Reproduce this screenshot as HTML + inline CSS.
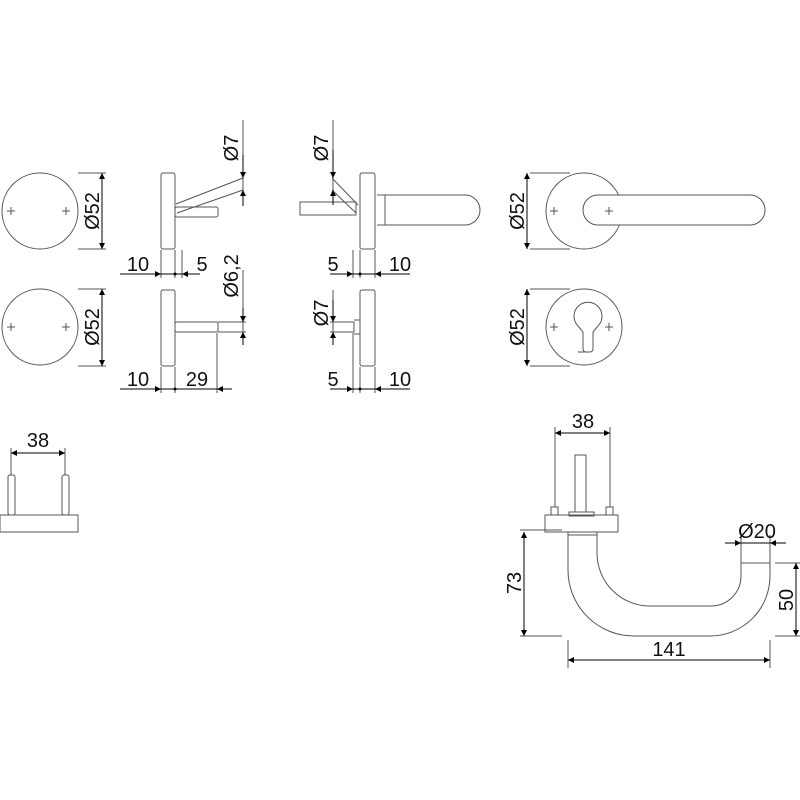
<!DOCTYPE html>
<html><head><style>html,body{margin:0;padding:0;background:#fff}svg{display:block}
text{font-family:"Liberation Sans",sans-serif;font-size:20px;fill:#111}</style></head>
<body>
<svg width="800" height="800" viewBox="0 0 800 800" xmlns="http://www.w3.org/2000/svg">
<defs>
<marker id="a" viewBox="0 0 10 10" refX="10" refY="5" markerWidth="12" markerHeight="6" markerUnits="userSpaceOnUse" orient="auto-start-reverse"><path d="M0,0L10,5L0,10z" fill="#000"/></marker>
</defs>
<g fill="none" stroke="#555" stroke-width="1">
<circle cx="40" cy="211" r="38"/><circle cx="40" cy="327" r="38"/>
<path d="M7 211h8M11 207v8M62 211h8M66 207v8M7 327h8M11 323v8M62 327h8M66 323v8"/>
<path d="M78 173h28M78 249h28M78 289h28M78 366h28"/>
<rect x="161" y="173" width="14" height="76" rx="2"/>
<rect x="175" y="207" width="43" height="10" rx="2"/>
<path d="M176 204L243 178M177 213L243 190M243 120V200M161 250v28M175 250v28M182 250v28"/>
<rect x="161" y="290" width="14" height="76" rx="2"/>
<rect x="175" y="322" width="43" height="10" rx="2"/>
<path d="M218 322h28M218 332h28M243 270V345M161 367v26M175 367v26M217 333v60"/>
<rect x="360" y="173" width="15" height="76" rx="2"/>
<rect x="300" y="202" width="56" height="13"/>
<path d="M332 178L358 205M332 190L356 213M333 120V205M377 195h8v30h-8M385 195H465a15 15 0 0 1 0 30H385M353 250v28M360 250v28M375 250v28"/>
<rect x="360" y="290" width="15" height="76" rx="2"/>
<path d="M330 322h24v10h-24M354 320h6v14h-6M333 290V345M353 333v60M360 367v26M375 367v26"/>
<circle cx="584" cy="211" r="38"/>
<path d="M600 195H750a15 15 0 0 1 0 30H598a15 15 0 0 1 0 -30z" fill="#fff"/>
<path d="M550 211h8M554 207v8M605 211h8M609 207v8"/>
<path d="M530 173h40M530 249h40M530 289h40M530 366h40"/>
<circle cx="584" cy="327" r="38"/>
<path d="M578 352h12a3 3 0 0 0 3-3V332l5-6a14 14 0 1 0 -20 0l5 6v17a3 3 0 0 0 3 3z"/>
<path d="M550 327h8M554 323v8M605 327h8M609 323v8"/>
<rect x="0" y="515" width="78" height="17"/>
<rect x="8" y="475" width="7" height="40" rx="2"/><rect x="62" y="475" width="7" height="40" rx="2"/>
<path d="M11 448v27M65 448v27"/>
<rect x="545" y="515" width="73" height="17"/>
<rect x="575" y="455" width="11" height="57"/>
<rect x="569" y="512" width="25" height="4"/>
<rect x="551" y="507" width="7" height="8"/><rect x="606" y="507" width="7" height="8"/>
<path d="M555 427v80M610 427v80"/>
<path d="M568 532V570A66 66 0 0 0 634 636H710A60 60 0 0 0 770 576V563H741V576A30 30 0 0 1 711 606H650A53 53 0 0 1 597 553V532"/>
<path d="M568 535h29M520 530h42M520 636h42M568 640v28M770 640v28M775 563h25M775 636h25M741 535v28M770 535v28"/>
</g>
<g stroke="#000" stroke-width="1" fill="none">
<path d="M102 173V249" marker-start="url(#a)" marker-end="url(#a)"/>
<path d="M102 289V366" marker-start="url(#a)" marker-end="url(#a)"/>
<path d="M243 155V178" marker-end="url(#a)"/><path d="M243 206V190" marker-end="url(#a)"/>
<path d="M120 274H161" marker-end="url(#a)"/><path d="M200 274H182" marker-end="url(#a)"/><path d="M161 274H200"/>
<path d="M243 308V322" marker-end="url(#a)"/><path d="M243 345V332" marker-end="url(#a)"/>
<path d="M120 389H161" marker-end="url(#a)"/><path d="M232 389H217" marker-end="url(#a)"/><path d="M161 389H217"/>
<path d="M333 150V178" marker-end="url(#a)"/><path d="M333 205V190" marker-end="url(#a)"/>
<path d="M330 274H353" marker-end="url(#a)"/><path d="M410 274H375" marker-end="url(#a)"/><path d="M353 274H410"/>
<path d="M333 300V322" marker-end="url(#a)"/><path d="M333 345V332" marker-end="url(#a)"/>
<path d="M330 389H353" marker-end="url(#a)"/><path d="M410 389H375" marker-end="url(#a)"/><path d="M353 389H410"/>
<path d="M527 173V249" marker-start="url(#a)" marker-end="url(#a)"/>
<path d="M527 289V366" marker-start="url(#a)" marker-end="url(#a)"/>
<path d="M11 453H65" marker-start="url(#a)" marker-end="url(#a)"/>
<path d="M555 433H610" marker-start="url(#a)" marker-end="url(#a)"/>
<path d="M524 532V636" marker-start="url(#a)" marker-end="url(#a)"/>
<path d="M796 563V636" marker-start="url(#a)" marker-end="url(#a)"/>
<path d="M568 660H770" marker-start="url(#a)" marker-end="url(#a)"/>
<path d="M725 543H741" marker-end="url(#a)"/><path d="M786 543H770" marker-end="url(#a)"/><path d="M741 543H770"/>
</g>
<g fill="#000"><circle cx="175" cy="274" r="1.5"/><circle cx="175" cy="389" r="1.5"/><circle cx="360" cy="274" r="1.5"/><circle cx="360" cy="389" r="1.5"/></g>
<text transform="translate(99 211) rotate(-90)" text-anchor="middle">Ø52</text>
<text transform="translate(99 327) rotate(-90)" text-anchor="middle">Ø52</text>
<text transform="translate(238 148) rotate(-90)" text-anchor="middle">Ø7</text>
<text transform="translate(238 276) rotate(-90)" text-anchor="middle">Ø6,2</text>
<text transform="translate(328 148) rotate(-90)" text-anchor="middle">Ø7</text>
<text transform="translate(328 313) rotate(-90)" text-anchor="middle">Ø7</text>
<text transform="translate(524 211) rotate(-90)" text-anchor="middle">Ø52</text>
<text transform="translate(524 327) rotate(-90)" text-anchor="middle">Ø52</text>
<text transform="translate(521 583) rotate(-90)" text-anchor="middle">73</text>
<text transform="translate(793 600) rotate(-90)" text-anchor="middle">50</text>
<text x="138" y="271" text-anchor="middle">10</text>
<text x="202" y="271" text-anchor="middle">5</text>
<text x="138" y="386" text-anchor="middle">10</text>
<text x="197" y="386" text-anchor="middle">29</text>
<text x="333" y="271" text-anchor="middle">5</text>
<text x="400" y="271" text-anchor="middle">10</text>
<text x="333" y="386" text-anchor="middle">5</text>
<text x="400" y="386" text-anchor="middle">10</text>
<text x="38" y="447" text-anchor="middle">38</text>
<text x="583" y="428" text-anchor="middle">38</text>
<text x="757" y="538" text-anchor="middle">Ø20</text>
<text x="669" y="656" text-anchor="middle">141</text>
</svg>
</body></html>
